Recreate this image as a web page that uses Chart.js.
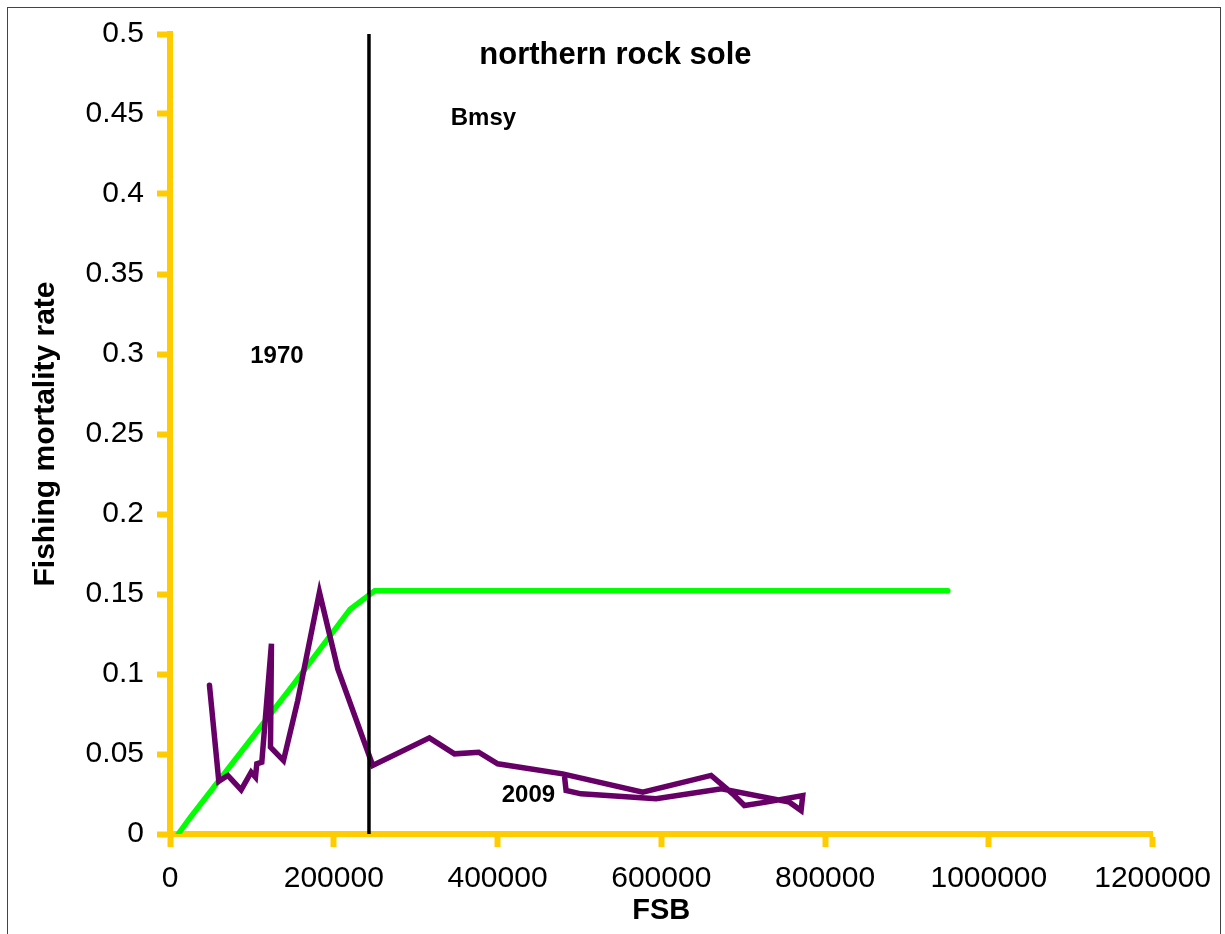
<!DOCTYPE html>
<html>
<head>
<meta charset="utf-8">
<title>northern rock sole</title>
<script src="https://cdn.jsdelivr.net/npm/chart.js@4.4.1/dist/chart.umd.min.js"></script>
<style>
  html, body { margin: 0; padding: 0; background: #ffffff; }
  #wrap { position: relative; width: 1225px; height: 934px; overflow: hidden; }
  #frame { position: absolute; left: 7px; top: 7px; width: 1214px; height: 960px;
           border: 1.5px solid #444444; box-sizing: border-box; pointer-events: none; }
  canvas { position: absolute; left: 0; top: 0; }
</style>
</head>
<body>
<div id="wrap">
  <canvas id="chart" width="1225" height="934"></canvas>
  <div id="frame"></div>
</div>
<script>
// Female spawning biomass (FSB) and fishing mortality, 1970 to 2009
const fsbObserved = [48200, 59600, 70600, 86900, 99100, 104400, 106000, 112100, 123900, 122700,
                     138600, 156000, 182500, 204900, 247600, 316800, 347400, 377000, 400200, 479600,
                     577300, 660800, 687200, 701500, 728000, 772700, 770700, 756400, 673400, 593600,
                     502000, 483700, 482000];
const fObserved   = [0.093, 0.033, 0.0366, 0.0276, 0.0386, 0.0355, 0.0439, 0.0449, 0.1189, 0.0543,
                     0.0459, 0.0834, 0.1511, 0.1032, 0.0428, 0.0601, 0.0501, 0.0511, 0.0439, 0.0376,
                     0.0261, 0.0366, 0.0251, 0.0178, 0.0199, 0.024, 0.0147, 0.0199, 0.0282, 0.022,
                     0.0251, 0.0272, 0.035];

// Harvest control rule
const hcrFsb = [10000, 25000, 150000, 220000, 250000, 950000];
const hcrF   = [0, 0.0105, 0.093, 0.1405, 0.152, 0.152];

// Reference biomass
const bmsy = 243000;

// Axis ticks
const xTicks = [0, 200000, 400000, 600000, 800000, 1000000, 1200000];
const yTicks = [0, 0.05, 0.1, 0.15, 0.2, 0.25, 0.3, 0.35, 0.4, 0.45, 0.5];

// Text labels placed in data coordinates
const labelText = ['northern rock sole', 'Bmsy', '1970', '2009'];
const labelFsb  = [544000, 382800, 130600, 437700];
const labelF    = [0.4866, 0.447, 0.2984, 0.024];
const labelSize = [31, 24, 24, 24];

const toPoints = (xs, ys) => xs.map((x, i) => ({ x: x, y: ys[i] }));

const AXIS = '#FFCC00';
const FONT = "'Liberation Sans', Arial, Helvetica, sans-serif";

const textLabels = {
  id: 'textLabels',
  afterDatasetsDraw(chart) {
    const { ctx, scales } = chart;
    ctx.save();
    ctx.fillStyle = '#000000';
    ctx.textAlign = 'center';
    ctx.textBaseline = 'middle';
    labelText.forEach((t, i) => {
      ctx.font = 'bold ' + labelSize[i] + 'px ' + FONT;
      ctx.fillText(t, scales.x.getPixelForValue(labelFsb[i]), scales.y.getPixelForValue(labelF[i]));
    });
    ctx.restore();
  }
};

new Chart(document.getElementById('chart'), {
  type: 'line',
  data: {
    datasets: [
      {
        label: 'F',
        data: toPoints(fsbObserved, fObserved),
        borderColor: '#660066',
        borderWidth: 5.5,
        borderCapStyle: 'round',
        borderJoinStyle: 'miter',
        pointRadius: 0,
        tension: 0,
        order: 2
      },
      {
        label: 'Control rule',
        data: toPoints(hcrFsb, hcrF),
        borderColor: '#00FF00',
        borderWidth: 5.5,
        borderCapStyle: 'round',
        pointRadius: 0,
        tension: 0,
        order: 3
      },
      {
        label: 'Bmsy',
        data: [{ x: bmsy, y: yTicks[0] }, { x: bmsy, y: yTicks[yTicks.length - 1] }],
        borderColor: '#000000',
        borderWidth: 3.5,
        pointRadius: 0,
        order: 1
      }
    ]
  },
  options: {
    responsive: false,
    animation: false,
    events: [],
    layout: { padding: { left: 0, top: 34, right: 72, bottom: 0 } },
    plugins: { legend: { display: false }, tooltip: { enabled: false } },
    scales: {
      x: {
        type: 'linear',
        min: xTicks[0],
        max: xTicks[xTicks.length - 1],
        afterFit(scale) { scale.height = 100; },
        afterBuildTicks(scale) { scale.ticks = xTicks.map(v => ({ value: v })); },
        border: { display: true, color: AXIS, width: 6 },
        grid: { drawOnChartArea: false, drawTicks: true, tickLength: 13, tickWidth: 6, tickColor: AXIS },
        ticks: {
          autoSkip: false, maxRotation: 0, padding: 14, color: '#000000',
          font: { family: FONT, size: 30 },
          callback: v => String(v)
        },
        title: {
          display: true, text: 'FSB', color: '#000000',
          font: { family: FONT, size: 29, weight: 'bold' },
          padding: { top: 0, bottom: 6 }
        }
      },
      y: {
        type: 'linear',
        min: yTicks[0],
        max: yTicks[yTicks.length - 1],
        afterFit(scale) { scale.width = 170; },
        afterBuildTicks(scale) { scale.ticks = yTicks.map(v => ({ value: v })); },
        border: { display: true, color: AXIS, width: 6 },
        grid: { drawOnChartArea: false, drawTicks: true, tickLength: 13, tickWidth: 6, tickColor: AXIS },
        ticks: {
          padding: 13, color: '#000000',
          font: { family: FONT, size: 30 },
          callback: v => String(+v.toFixed(2))
        },
        title: {
          display: true, text: 'Fishing mortality rate', color: '#000000',
          font: { family: FONT, size: 30, weight: 'bold' },
          padding: { top: 28, bottom: 0 }
        }
      }
    }
  },
  plugins: [textLabels]
});
</script>
</body>
</html>
